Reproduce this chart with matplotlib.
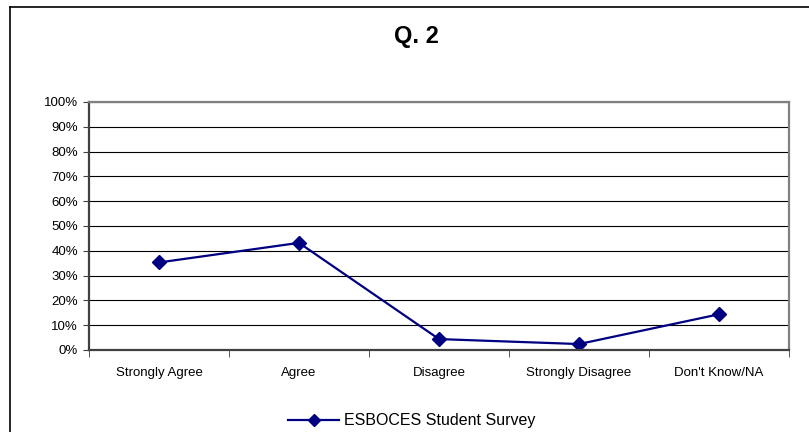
import matplotlib
matplotlib.use('Agg')
import matplotlib.pyplot as plt
from matplotlib.lines import Line2D
import numpy as np

plt.rcParams['font.family'] = ['Liberation Sans', 'DejaVu Sans']

categories = ['Strongly Agree', 'Agree', 'Disagree', 'Strongly Disagree', "Don't Know/NA"]
values = [35.3, 43.2, 4.4, 2.4, 14.4]
series_name = 'ESBOCES Student Survey'
title = 'Q. 2'

fig = plt.figure(figsize=(8.09, 4.32), dpi=100)
ax = fig.add_axes([89/809, 82/432, 700/809, 248/432])

x = np.arange(len(categories))
line, = ax.plot(x, values, color='#000080', lw=1.6, marker='D', ms=7.5,
                markerfacecolor='#000080', markeredgecolor='#000080', label=series_name)

ax.set_xlim(-0.5, len(categories) - 0.5)
ax.set_ylim(0, 100)
ax.set_yticks(np.arange(0, 101, 10))
ax.set_yticklabels(['%d%%' % v for v in range(0, 101, 10)], fontsize=9.5)
ax.yaxis.grid(True, color='black', lw=0.8)
ax.set_axisbelow(True)

# category labels at centres, tick marks between categories
ax.set_xticks(x)
ax.set_xticklabels(categories, fontsize=9.5)
ax.tick_params(axis='x', length=0, pad=12)
ax.set_xticks(np.arange(-0.5, len(categories)), minor=True)
ax.tick_params(axis='x', which='minor', length=5, direction='out', color='#404040')
ax.tick_params(axis='y', length=4, direction='out', color='#404040', pad=4)

for s in ['top', 'right']:
    ax.spines[s].set_color('#808080')
    ax.spines[s].set_linewidth(1.6)
for s in ['left', 'bottom']:
    ax.spines[s].set_color('#404040')
    ax.spines[s].set_linewidth(1.6)

fig.text(416/809, 1 - 37/432, title, ha='center', va='center', fontsize=17, fontweight='bold')

leg = fig.legend(handles=[line], loc='center', bbox_to_anchor=(412/809, 1 - 421/432),
                 frameon=False, fontsize=11.5, handlelength=3.2, handletextpad=0.3,
                 markerscale=0.75)

# outer chart border (cut off at right and bottom)
fig.add_artist(Line2D([10/809, 10/809], [-0.1, 1 - 7/432], transform=fig.transFigure, color='black', lw=1.2))
fig.add_artist(Line2D([10/809, 1.1], [1 - 7/432, 1 - 7/432], transform=fig.transFigure, color='black', lw=1.2))

fig.savefig('out.png', dpi=100)
